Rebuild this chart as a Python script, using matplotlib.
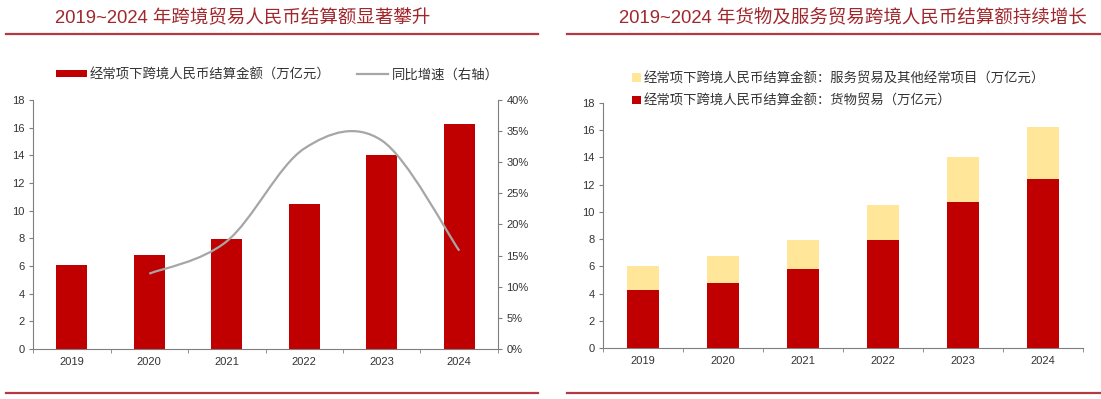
"""Two-panel chart: cross-border RMB settlement under current account, 2019-2024."""

import matplotlib

matplotlib.use("Agg")
import matplotlib.pyplot as plt
from matplotlib.lines import Line2D
from matplotlib.patches import PathPatch
from matplotlib.path import Path
from matplotlib.ticker import FuncFormatter, MultipleLocator

plt.rcParams["font.family"] = ["Liberation Sans", "Noto Sans CJK SC"]

years = ["2019", "2020", "2021", "2022", "2023", "2024"]
total = [6.04, 6.77, 7.94, 10.49, 14.03, 16.27]
growth_years = ["2020", "2021", "2022", "2023", "2024"]
growth = [12.1, 17.3, 32.2, 33.5, 15.8]
goods = [4.23, 4.78, 5.77, 7.92, 10.69, 12.41]
services = [1.81, 1.99, 2.17, 2.58, 3.36, 3.86]

title_left = "2019~2024 年跨境贸易人民币结算额显著攀升"
title_right = "2019~2024 年货物及服务贸易跨境人民币结算额持续增长"
label_total = "经常项下跨境人民币结算金额（万亿元）"
label_growth = "同比增速（右轴）"
label_services = "经常项下跨境人民币结算金额：服务贸易及其他经常项目（万亿元）"
label_goods = "经常项下跨境人民币结算金额：货物贸易（万亿元）"

RED = "#C00000"
YELLOW = "#FFE699"
GREY_LINE = "#A6A6A6"
AXIS = "#7F7F7F"
TEXT = "#333333"
TITLE = "#A0282D"
RULE = "#B33A42"


def smooth_path(xs, ys):
    """Excel-style smoothed line as cubic Bezier segments through the points."""
    n = len(xs)
    pts = list(zip(xs, ys))
    verts = [pts[0]]
    codes = [Path.MOVETO]
    for i in range(n - 1):
        p0 = pts[max(i - 1, 0)]
        p1 = pts[i]
        p2 = pts[i + 1]
        p3 = pts[min(i + 2, n - 1)]
        c1 = (p1[0] + (p2[0] - p0[0]) / 6, p1[1] + (p2[1] - p0[1]) / 6)
        c2 = (p2[0] - (p3[0] - p1[0]) / 6, p2[1] - (p3[1] - p1[1]) / 6)
        verts += [c1, c2, p2]
        codes += [Path.CURVE4] * 3
    return Path(verts, codes)


def style_axis(ax, n):
    for side in ("top", "right"):
        ax.spines[side].set_visible(False)
    for side in ("left", "bottom"):
        ax.spines[side].set_color(AXIS)
        ax.spines[side].set_linewidth(0.8)
    ax.set_xlim(-0.5, n - 0.5)
    ax.set_ylim(0, 18)
    ax.yaxis.set_major_locator(MultipleLocator(2))
    ax.set_xticks(range(n))
    ax.set_xticklabels(years)
    ax.set_xticks([i + 0.5 for i in range(-1, n)], minor=True)
    ax.tick_params(axis="x", which="major", length=0, labelsize=8, colors=TEXT, pad=6)
    ax.tick_params(axis="x", which="minor", length=3, color=AXIS, direction="out")
    ax.tick_params(axis="y", length=3, color=AXIS, labelsize=8, labelcolor=TEXT, pad=3)


fig = plt.figure(figsize=(11.01, 3.99), dpi=100)

# left panel
ax1 = fig.add_axes([0.030, 0.1253, 0.4223, 0.6241])
x = list(range(len(years)))
bars = ax1.bar(x, total, width=0.4, color=RED, label=label_total, zorder=2)
style_axis(ax1, len(years))

ax1r = ax1.twinx()
ax1r.set_ylim(0, 40)
ax1r.yaxis.set_major_locator(MultipleLocator(5))
ax1r.yaxis.set_major_formatter(FuncFormatter(lambda v, _: f"{v:.0f}%"))
for side in ("top", "left", "bottom"):
    ax1r.spines[side].set_visible(False)
ax1r.spines["right"].set_color(AXIS)
ax1r.spines["right"].set_linewidth(0.8)
ax1r.tick_params(axis="y", length=3, color=AXIS, labelsize=8, labelcolor=TEXT, pad=3)
gx = [years.index(y) for y in growth_years]
ax1r.add_patch(
    PathPatch(smooth_path(gx, growth), fill=False, edgecolor=GREY_LINE, linewidth=1.6, zorder=3)
)

handles = [bars, Line2D([], [], color=GREY_LINE, linewidth=1.6)]
fig.legend(
    handles,
    [label_total, label_growth],
    loc="center left",
    bbox_to_anchor=(0.040, 0.812),
    ncol=2,
    frameon=False,
    fontsize=9.6,
    handlelength=2.3,
    handleheight=0.45,
    handletextpad=0.25,
    columnspacing=2.0,
    labelcolor=TEXT,
)

# right panel
ax2 = fig.add_axes([0.5477, 0.1278, 0.436, 0.6141])
b_goods = ax2.bar(x, goods, width=0.4, color=RED, label=label_goods, zorder=2)
b_serv = ax2.bar(x, services, width=0.4, bottom=goods, color=YELLOW, label=label_services, zorder=2)
style_axis(ax2, len(years))
fig.legend(
    [b_serv, b_goods],
    [label_services, label_goods],
    loc="upper left",
    bbox_to_anchor=(0.563, 0.85),
    frameon=False,
    fontsize=9.6,
    handlelength=0.65,
    handleheight=0.65,
    handletextpad=0.2,
    labelspacing=0.7,
    labelcolor=TEXT,
)

# titles and rules
fig.text(0.22, 0.955, title_left, ha="center", va="center", fontsize=13.3, color=TITLE)
fig.text(0.775, 0.955, title_right, ha="center", va="center", fontsize=13.3, color=TITLE)
for x0, x1 in ((0.005, 0.489), (0.515, 1.0)):
    for yy in (0.915, 0.016):
        fig.add_artist(Line2D([x0, x1], [yy, yy], color=RULE, linewidth=1.6))

fig.savefig("out.png", dpi=100)
